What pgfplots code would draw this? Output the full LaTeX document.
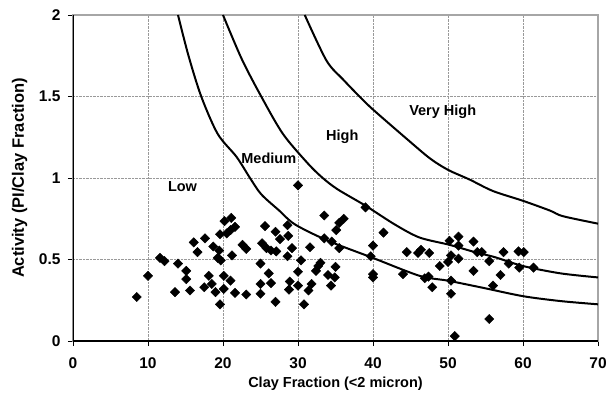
\documentclass[border=0pt]{standalone}
\usepackage{pgfplots}
\pgfplotsset{compat=1.18}
\usepackage{fontspec}
\setmainfont{Liberation Sans}
\newcommand{\lf}{\bfseries\fontsize{14.5}{16}\selectfont}
\newcommand{\tf}{\bfseries\fontsize{15.5}{17}\selectfont}
\newcommand{\yf}{\bfseries\fontsize{16.5}{18}\selectfont}
\begin{document}
\begin{tikzpicture}
\useasboundingbox (-73pt,-55pt) rectangle (534pt,341pt);
\begin{axis}[
  at={(0,0)}, anchor=south west,
  scale only axis, width=525pt, height=326pt,
  xmin=0, xmax=70, ymin=0, ymax=2,
  xtick={0,10,...,70}, ytick={0,0.5,1,1.5,2},
  yticklabels={0,0.5,1,1.5,2},
  xtick pos=bottom, ytick pos=left,
  tick align=outside, major tick length=5pt,
  tick style={black, line width=0.8pt},
  grid=major, major grid style={densely dotted, gray!80, line width=0.6pt},
  axis line style={gray!70, line width=1.2pt},
  /pgf/number format/assume math mode=true,
  ticklabel style={font=\tf},
  xticklabel style={yshift=-8pt},
  yticklabel style={xshift=-4pt},
  xlabel={Clay Fraction (<2 micron)},
  ylabel={Activity (PI/Clay Fraction)},
  every axis x label/.style={at={(axis description cs:0.5,-0.13)}, anchor=center, font=\lf},
  every axis y label/.style={at={(axis description cs:-0.1015,0.5)}, anchor=center, rotate=90, font=\yf},
  clip=true,
]
\draw[black, line width=1.3pt] (rel axis cs:0,1) -- (rel axis cs:0,0) -- (rel axis cs:1,0);
% Low / Medium boundary
\addplot[black, line width=2pt, smooth] coordinates {
(14.0,2.0) (15.4,1.75) (17.1,1.5) (19.3,1.27) (21.8,1.13) (23.6,1.0) (25.1,0.9) (27.5,0.80) (29.6,0.715) (34,0.615) (39.8,0.513) (46.2,0.40) (50,0.37) (54.7,0.326) (60,0.275) (65,0.245) (70,0.225)};
% Medium / High boundary
\addplot[black, line width=2pt, smooth] coordinates {
(20,2.0) (22.5,1.73) (25.1,1.5) (28,1.27) (31.3,1.09) (33.3,1.0) (35.3,0.93) (39,0.83) (42.9,0.715) (46.2,0.635) (50.2,0.59) (53.6,0.545) (56.2,0.515) (60,0.46) (65,0.415) (70,0.39)};
% High / Very High boundary
\addplot[black, line width=2pt, smooth] coordinates {
(30.9,2.0) (33.8,1.72) (36,1.605) (38.2,1.5) (40,1.42) (44.5,1.24) (47.6,1.12) (50,1.05) (52.9,0.99) (56,0.92) (60,0.86) (63.6,0.80) (65.3,0.766) (70,0.72)};
\addplot[only marks, mark=square*, mark size=3.3pt, mark options={rotate=45, fill=black, draw=black}] coordinates {
(8.5,0.27) (10.0,0.40) (11.6,0.51) (12.2,0.49) (14.0,0.475) (15.1,0.43) (15.1,0.38)
(13.6,0.30) (15.6,0.31) (16.1,0.605) (17.6,0.63) (16.6,0.545) (17.5,0.33) (18.1,0.40)
(18.5,0.35) (19.0,0.30) (19.6,0.225) (20.1,0.40) (20.1,0.32) (21.0,0.37) (18.7,0.58)
(19.5,0.555) (19.3,0.51) (19.7,0.495) (19.6,0.655) (20.2,0.735) (21.1,0.755) (20.5,0.66)
(21.0,0.68) (21.6,0.70) (21.2,0.525) (21.6,0.295) (23.1,0.285) (22.6,0.59) (23.1,0.565)
(25.2,0.60) (25.8,0.57) (26.4,0.555) (27.1,0.55) (25.6,0.705) (27.0,0.67) (25.0,0.475)
(26.1,0.415) (26.4,0.355) (25.0,0.35) (25.0,0.29) (27.0,0.24) (28.6,0.71) (27.6,0.625)
(28.7,0.645) (29.2,0.57) (28.6,0.52) (28.9,0.365) (30.0,0.34) (28.8,0.315) (30.0,0.425)
(30.4,0.495) (30.8,0.225)
(30.0,0.955) (33.5,0.77) (35.5,0.725) (36.1,0.75) (35.1,0.68) (33.5,0.63) (34.5,0.61)
(35.5,0.57) (31.6,0.575) (32.7,0.46) (32.4,0.43) (33.0,0.48) (31.8,0.35) (31.4,0.31)
(34.0,0.405) (35.0,0.455) (34.9,0.39) (34.4,0.34) (39.0,0.82) (41.4,0.665) (40.0,0.585)
(39.7,0.52) (40.0,0.41) (40.0,0.39) (44.0,0.41) (44.5,0.545) (46.0,0.54) (46.4,0.56)
(47.5,0.54) (46.9,0.385) (47.4,0.395) (47.9,0.33) (48.9,0.46) (50.2,0.615) (51.4,0.64)
(51.4,0.585) (50.4,0.525) (50.0,0.485) (51.4,0.505) (50.4,0.37) (50.4,0.29) (50.9,0.03)
(53.4,0.61) (53.9,0.545) (54.5,0.545) (53.4,0.43) (55.5,0.49) (57.0,0.405) (56.0,0.34)
(55.5,0.135) (57.4,0.545) (58.1,0.475) (59.4,0.55) (60.1,0.545) (59.5,0.45) (61.4,0.45)};
\node[font=\lf, fill=white, inner sep=2pt] at (axis cs:14.6,0.947) {Low};
\node[font=\lf, inner sep=1pt] at (axis cs:26.1,1.12) {Medium};
\node[font=\lf, inner sep=1pt] at (axis cs:35.9,1.255) {High};
\node[font=\lf, inner sep=1pt] at (axis cs:49.3,1.405) {Very High};
\end{axis}
\end{tikzpicture}
\end{document}
